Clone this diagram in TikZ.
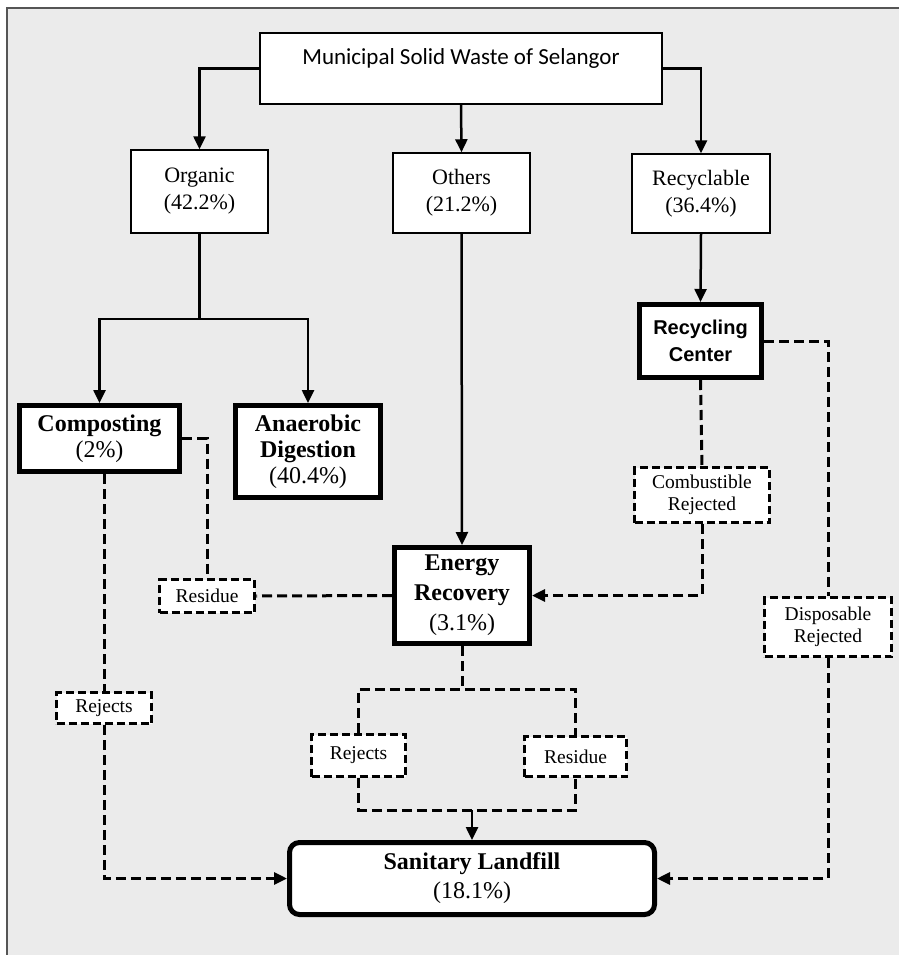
\documentclass[tikz,border=0pt]{standalone}
\usepackage{fontspec}
\setmainfont{Liberation Serif}
\newfontfamily\calibfont{Carlito}
\newfontfamily\rcfont{Liberation Sans}
\usetikzlibrary{arrows.meta}
\definecolor{bggray}{RGB}{235,235,235}
\definecolor{framegray}{RGB}{85,85,85}
\tikzset{box/.style = {draw, fill=white, line width=1.5pt, inner sep=0, align=center,
                       font=\fontsize{22}{27}\selectfont}}
\tikzset{bbox/.style = {box, line width=5pt, font=\fontsize{24}{26}\selectfont\bfseries}}
\tikzset{dbox/.style = {box, line width=3.5pt, dash pattern=on 8pt off 4pt,
                        font=\fontsize{19.5}{22}\selectfont}}
\tikzset{arr/.style = {line width=2.5pt, -{Triangle[length=13pt, width=12pt]}}}
\tikzset{dline/.style = {line width=3pt, dash pattern=on 10pt off 5pt}}
\tikzset{darr/.style = {dline, -{Triangle[length=13pt, width=12pt]}}}

\begin{document}
\begin{tikzpicture}[x=1pt, y=-1pt]
      \useasboundingbox (0,0) rectangle (899,955);
      \fill [bggray] (7,8) rectangle (899,955);
      \draw [framegray, line width=2pt] (7,955) -- (7,8) -- (899,8);

      % sources
      \node [box, minimum width=402pt, minimum height=71pt, text height=16pt, text depth=24pt,
             font=\calibfont\fontsize{23}{23}\selectfont] (msw) at (461,68.5) {Municipal Solid Waste of Selangor};
      \node [box, minimum width=137pt, minimum height=83pt] (org) at (199.5,191.5) {Organic\\(42.2\%)};
      \node [box, minimum width=137pt, minimum height=80pt] (oth) at (461.5,193) {Others\\(21.2\%)};
      \node [box, minimum width=138pt, minimum height=79pt] (rcy) at (701,193.5) {Recyclable\\(36.4\%)};

      % treatment
      \node [bbox, minimum width=122pt, minimum height=73pt,
             font=\rcfont\fontsize{20}{27}\selectfont\bfseries] (rcc) at (700.5,341) {Recycling\\Center};
      \node [bbox, minimum width=160pt, minimum height=66pt] (cmp) at (99.5,438.5) {Composting\\\mdseries(2\%)};
      \node [bbox, minimum width=145pt, minimum height=92pt] (ana) at (308,451.5) {Anaerobic\\Digestion\\\mdseries(40.4\%)};
      \node [bbox, minimum width=135pt, minimum height=96pt, font=\fontsize{24}{30}\selectfont\bfseries] (ene) at (462,595.5) {Energy\\Recovery\\\mdseries(3.1\%)};
      \node [bbox, minimum width=365pt, minimum height=72pt, rounded corners=10pt,
             font=\fontsize{24}{29}\selectfont\bfseries] (lan) at (472,878.5) {Sanitary Landfill\\\mdseries(18.1\%)};

      % by-products
      \node [dbox, minimum width=95pt, minimum height=33pt] (res1) at (207,596) {Residue};
      \node [dbox, minimum width=135pt, minimum height=55pt] (cmb) at (702,495) {Combustible\\Rejected};
      \node [dbox, minimum width=127pt, minimum height=59pt] (dis) at (828,627) {Disposable\\Rejected};
      \node [dbox, minimum width=95pt, minimum height=31pt] (rej1) at (104,708) {Rejects};
      \node [dbox, minimum width=94pt, minimum height=42pt] (rej2) at (358.5,755.5) {Rejects};
      \node [dbox, minimum width=102pt, minimum height=40pt] (res2) at (575.5,756.5) {Residue};

      \coordinate (orgsplit) at (199.5,319);
      \coordinate (enesplit) at (462,689);
      \coordinate (lansplit) at (472,810);

      % solid flows
      \draw [arr] (msw.west) -| (org.north);
      \draw [arr] (msw.south) -- (oth.north);
      \draw [arr] (msw.east) -| (rcy.north);
      \draw [arr] (rcy.south) -- (rcc.north);
      \draw [line width=2.5pt] (org.south) -- (orgsplit);
      \draw [arr] (orgsplit) -| (cmp.north);
      \draw [arr] (orgsplit) -| (ana.north);
      \draw [arr] (oth.south) -- (ene.north);

      % dashed flows
      \draw [dline] (cmp.east) -| (res1.north);
      \draw [dline] (ene.west) -- (res1.east);
      \draw [dline] (rcc.south) -- (cmb.north);
      \draw [darr] (cmb.south) |- (ene.east);
      \draw [dline] (rcc.east) -| (dis.north);
      \draw [darr] (dis.south) |- (lan.east);
      \draw [dline] (cmp.south -| rej1) -- (rej1.north);
      \draw [darr] (rej1.south) |- (lan.west);
      \draw [dline] (ene.south) -- (enesplit);
      \draw [dline] (rej2.north) |- (enesplit) -| (res2.north);
      \draw [dline] (rej2.south) |- (lansplit) -| (res2.south);
      \draw [arr] (lansplit) -- (lan.north);
\end{tikzpicture}
\end{document}
